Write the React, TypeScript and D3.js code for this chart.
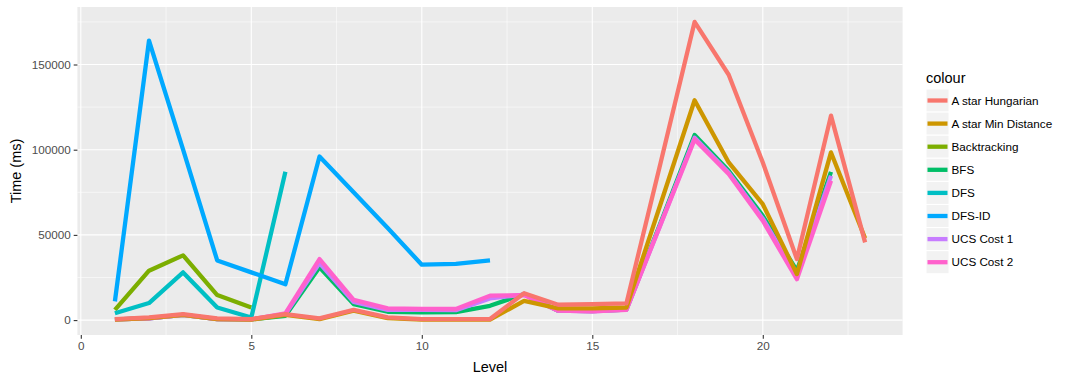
import React, { useRef, useEffect } from 'react';
import * as d3 from 'd3';

const levels = d3.range(1, 24);

const seriesNames = [
  'A star Hungarian', 'A star Min Distance', 'Backtracking', 'BFS',
  'DFS', 'DFS-ID', 'UCS Cost 1', 'UCS Cost 2',
];
const seriesColors = ['#F8766D', '#CD9600', '#7CAE00', '#00BE67', '#00BFC4', '#00A9FF', '#C77CFF', '#FF61CC'];

// times in ms, indexed from level 1
const aStarHungarian = [600, 1600, 3500, 1000, 600, 3500, 1000, 6000, 1600, 600, 600, 600, 15800, 9000, 9400, 9800, 92000, 175000, 144000, 92500, 35800, 120000, 45600];
const aStarMinDistance = [300, 1200, 3000, 600, 300, 3000, 600, 5500, 1200, 300, 300, 300, 11300, 6900, 6900, 7400, 68000, 129000, 92500, 68000, 27000, 98400, 48000];
const backtracking = [6000, 29000, 38000, 14700, 7400];
const bfs = [400, 1000, 3000, 600, 400, 2500, 31000, 9400, 4900, 4500, 4700, 8400, 15300, 5500, 5300, 6200, 57000, 108600, 87600, 61200, 29000, 87000];
const dfs = [4000, 10000, 28000, 7400, 1500, 87000];
const dfsId = [11000, 164000, 100000, 35000, 28000, 21000, 96000, 75000, 54000, 32500, 33000, 35000];
const ucsCost1 = [400, 1000, 3000, 600, 400, 3500, 33500, 10700, 6000, 6000, 5800, 12700, 15000, 5500, 5200, 6100, 56000, 107000, 86500, 59500, 26000, 84700];
const ucsCost2 = [400, 1000, 3000, 600, 400, 4000, 35800, 11900, 6900, 6500, 6500, 14300, 14700, 5500, 5100, 6000, 56000, 106000, 85700, 58300, 24000, 81800];

const seriesValues = [aStarHungarian, aStarMinDistance, backtracking, bfs, dfs, dfsId, ucsCost1, ucsCost2];
// layer order, last on top
const drawOrder = [2, 4, 5, 3, 6, 7, 1, 0];

const xTicks = [0, 5, 10, 15, 20];
const yTicks = [0, 50000, 100000, 150000];

const App = () => {
  const svgRef = useRef(null);

  useEffect(() => {
    const svg = d3.select(svgRef.current);
    svg.selectAll('*').remove();

    const font = 'Liberation Sans, Arial, sans-serif';
    const panel = { left: 77.4, right: 902.6, top: 7, bottom: 335 };

    const x = d3.scaleLinear().domain([-0.1, 24.1]).range([panel.left, panel.right]);
    const yMax = d3.max(seriesValues, s => d3.max(s));
    const y = d3.scaleLinear().domain([-yMax * 0.05, yMax * 1.05]).range([panel.bottom, panel.top]);

    svg.append('rect')
      .attr('x', panel.left).attr('y', panel.top)
      .attr('width', panel.right - panel.left).attr('height', panel.bottom - panel.top)
      .attr('fill', '#EBEBEB');

    // minor grid
    const xMinor = xTicks.map(t => t + 2.5);
    const yMinor = yTicks.map(t => t + 25000);
    svg.append('g').selectAll('line').data(xMinor).join('line')
      .attr('x1', d => x(d)).attr('x2', d => x(d))
      .attr('y1', panel.top).attr('y2', panel.bottom)
      .attr('stroke', '#fff').attr('stroke-width', 0.55);
    svg.append('g').selectAll('line').data(yMinor).join('line')
      .attr('y1', d => y(d)).attr('y2', d => y(d))
      .attr('x1', panel.left).attr('x2', panel.right)
      .attr('stroke', '#fff').attr('stroke-width', 0.55);

    // major grid
    svg.append('g').selectAll('line').data(xTicks).join('line')
      .attr('x1', d => x(d)).attr('x2', d => x(d))
      .attr('y1', panel.top).attr('y2', panel.bottom)
      .attr('stroke', '#fff').attr('stroke-width', 1.1);
    svg.append('g').selectAll('line').data(yTicks).join('line')
      .attr('y1', d => y(d)).attr('y2', d => y(d))
      .attr('x1', panel.left).attr('x2', panel.right)
      .attr('stroke', '#fff').attr('stroke-width', 1.1);

    // lines
    const line = d3.line<number>()
      .x((d, i) => x(levels[i]))
      .y(d => y(d));

    svg.append('g').selectAll('path').data(drawOrder).join('path')
      .attr('d', k => line(seriesValues[k]))
      .attr('fill', 'none')
      .attr('stroke', k => seriesColors[k])
      .attr('stroke-width', 4.3)
      .attr('stroke-linejoin', 'round')
      .attr('stroke-linecap', 'butt');

    // X axis
    const xAxis = svg.append('g')
      .attr('transform', `translate(0,${panel.bottom})`)
      .call(d3.axisBottom(x).tickValues(xTicks).tickSize(3.7).tickPadding(3).tickFormat(d3.format('d')));
    xAxis.select('.domain').remove();
    xAxis.selectAll('line').attr('stroke', '#333333').attr('stroke-width', 1.1);
    xAxis.selectAll('text').attr('fill', '#4D4D4D').attr('font-size', '11.7px').attr('font-family', font);

    // Y axis
    const yAxis = svg.append('g')
      .attr('transform', `translate(${panel.left},0)`)
      .call(d3.axisLeft(y).tickValues(yTicks).tickSize(3.7).tickPadding(3).tickFormat(d3.format('d')));
    yAxis.select('.domain').remove();
    yAxis.selectAll('line').attr('stroke', '#333333').attr('stroke-width', 1.1);
    yAxis.selectAll('text').attr('fill', '#4D4D4D').attr('font-size', '11.7px').attr('font-family', font);

    // axis titles
    svg.append('text')
      .attr('x', (panel.left + panel.right) / 2)
      .attr('y', 372)
      .attr('text-anchor', 'middle')
      .attr('font-size', '14.5px')
      .attr('font-family', font)
      .attr('fill', 'black')
      .text('Level');

    svg.append('text')
      .attr('transform', `translate(21,${(panel.top + panel.bottom) / 2}) rotate(-90)`)
      .attr('text-anchor', 'middle')
      .attr('font-size', '14.5px')
      .attr('font-family', font)
      .attr('fill', 'black')
      .text('Time (ms)');

    // Legend
    const legend = svg.append('g').attr('transform', 'translate(926,89)');
    legend.append('text')
      .attr('x', 0).attr('y', -6)
      .attr('font-size', '14.5px')
      .attr('font-family', font)
      .attr('fill', 'black')
      .text('colour');

    const keys = legend.selectAll('g.key').data(seriesNames).join('g')
      .attr('class', 'key')
      .attr('transform', (d, i) => `translate(0,${i * 23.1})`);
    keys.append('rect')
      .attr('width', 23).attr('height', 23)
      .attr('fill', '#F2F2F2')
      .attr('stroke', '#fff').attr('stroke-width', 1);
    keys.append('line')
      .attr('x1', 1.5).attr('x2', 21.5)
      .attr('y1', 11.5).attr('y2', 11.5)
      .attr('stroke', (d, i) => seriesColors[i])
      .attr('stroke-width', 4.3);
    keys.append('text')
      .attr('x', 25.5).attr('y', 15.5)
      .attr('font-size', '11.7px')
      .attr('font-family', font)
      .attr('fill', 'black')
      .text(d => d);
  }, []);

  return (
    <svg ref={svgRef} width={1071} height={379}
      style={{ position: 'absolute', left: 0, top: 0, background: '#fff' }} />
  );
};

export default App;
